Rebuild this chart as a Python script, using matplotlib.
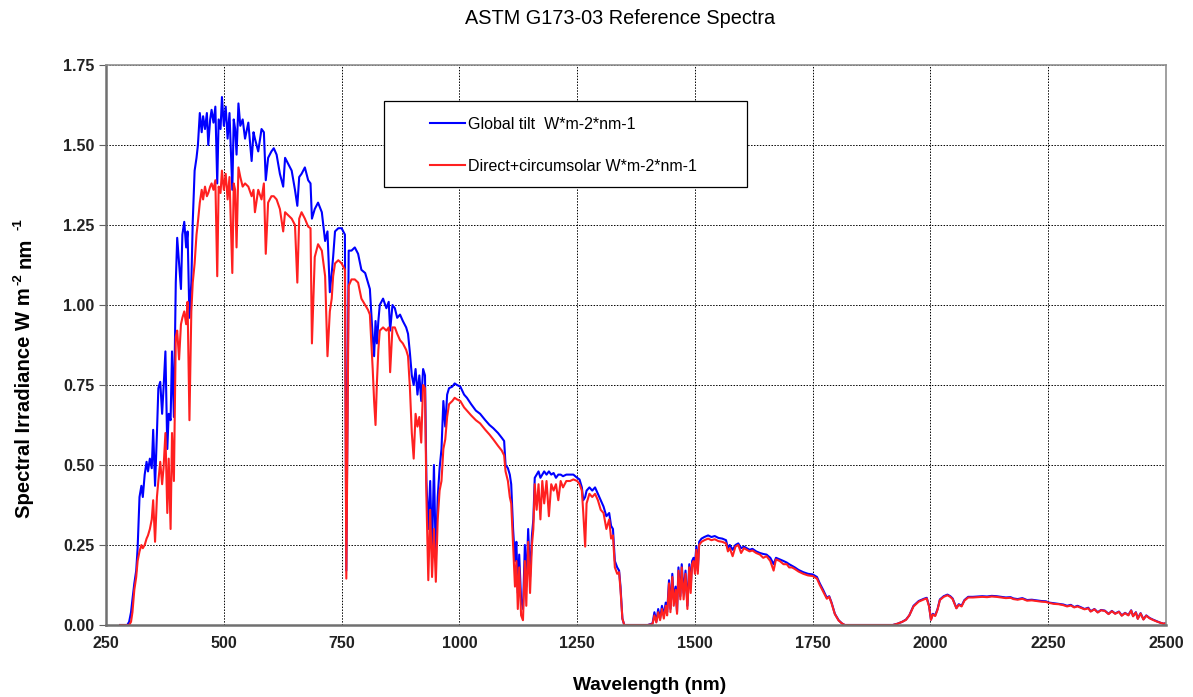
import matplotlib.pyplot as plt
from matplotlib.patches import Rectangle

plt.rcParams['font.family'] = ['Liberation Sans', 'DejaVu Sans']

# wavelength (nm), shared by both spectra
wavelength = [
    280, 295, 299, 303, 306, 310, 314, 317, 321, 325, 328, 332, 336, 339, 343, 347,
    350, 354, 358, 361, 365, 369, 372, 376, 380, 383, 387, 390, 394, 398, 401, 405,
    409, 412, 416, 420, 423, 427, 431, 434, 438, 442, 445, 449, 453, 456, 460, 464,
    467, 471, 474, 478, 482, 486, 489, 493, 496, 500, 504, 508, 512, 518, 521, 524,
    527, 531, 535, 540, 545, 552, 559, 563, 566, 573, 580, 585, 589, 594, 601, 606,
    612, 619, 626, 630, 637, 644, 651, 656, 660, 665, 672, 679, 684, 687, 693, 700,
    708, 715, 720, 725, 729, 732, 736, 743, 750, 757, 760, 765, 771, 778, 785, 792,
    800, 806, 810, 816, 819, 822, 825, 828, 831, 838, 845, 850, 853, 858, 863, 868,
    874, 880, 887, 891, 895, 899, 903, 907, 911, 915, 919, 923, 927, 930, 934, 938,
    942, 946, 950, 954, 958, 962, 966, 970, 974, 978, 985, 990, 995, 1002, 1010, 1016,
    1025, 1035, 1044, 1055, 1064, 1072, 1082, 1090, 1095, 1098, 1103, 1107, 1110, 1114, 1118, 1121,
    1124, 1127, 1131, 1135, 1139, 1142, 1146, 1150, 1154, 1157, 1160, 1164, 1168, 1172, 1176, 1180,
    1185, 1190, 1195, 1200, 1205, 1210, 1215, 1220, 1227, 1235, 1242, 1250, 1255, 1260, 1263, 1267,
    1270, 1276, 1282, 1288, 1294, 1300, 1306, 1312, 1318, 1322, 1326, 1330, 1335, 1339, 1342, 1346,
    1350, 1400, 1410, 1414, 1418, 1422, 1426, 1430, 1434, 1438, 1441, 1445, 1448, 1452, 1455, 1459,
    1462, 1465, 1469, 1472, 1476, 1480, 1484, 1488, 1491, 1494, 1497, 1500, 1503, 1506, 1509, 1514,
    1520, 1528, 1535, 1542, 1550, 1558, 1566, 1570, 1574, 1580, 1586, 1592, 1598, 1604, 1610, 1616,
    1622, 1630, 1638, 1645, 1652, 1660, 1667, 1672, 1680, 1688, 1695, 1700, 1706, 1712, 1720, 1730,
    1740, 1750, 1759, 1765, 1772, 1780, 1785, 1790, 1797, 1805, 1812, 1818, 1920, 1930, 1940, 1948,
    1955, 1964, 1975, 1986, 1992, 1997, 2001, 2005, 2010, 2015, 2020, 2028, 2036, 2042, 2047, 2055,
    2060, 2066, 2072, 2080, 2090, 2100, 2110, 2120, 2130, 2140, 2150, 2160, 2170, 2176, 2185, 2195,
    2205, 2215, 2225, 2235, 2245, 2252, 2262, 2272, 2282, 2290, 2298, 2305, 2312, 2320, 2327, 2335,
    2340, 2348, 2355, 2362, 2370, 2378, 2385, 2392, 2400, 2406, 2413, 2420, 2426, 2430, 2436, 2440,
    2446, 2452, 2458, 2465, 2472, 2480, 2488, 2495, 2500,
]

global_tilt = [
    0, 0, 0.01, 0.04, 0.08, 0.13, 0.17, 0.24, 0.40, 0.435, 0.40, 0.47, 0.51, 0.48, 0.52, 0.49,
    0.61, 0.435, 0.60, 0.74, 0.76, 0.66, 0.74, 0.855, 0.55, 0.66, 0.64, 0.855, 0.65, 1.07, 1.21, 1.13,
    1.05, 1.22, 1.26, 1.18, 1.23, 0.96, 1.07, 1.26, 1.42, 1.46, 1.50, 1.60, 1.54, 1.59, 1.55, 1.60,
    1.50, 1.58, 1.61, 1.57, 1.62, 1.38, 1.58, 1.55, 1.65, 1.56, 1.62, 1.52, 1.60, 1.36, 1.58, 1.55,
    1.47, 1.63, 1.56, 1.58, 1.52, 1.57, 1.45, 1.54, 1.52, 1.48, 1.55, 1.54, 1.39, 1.46, 1.48, 1.49,
    1.47, 1.41, 1.37, 1.46, 1.44, 1.42, 1.36, 1.31, 1.40, 1.41, 1.43, 1.39, 1.38, 1.27, 1.30, 1.32,
    1.29, 1.20, 1.23, 1.04, 1.10, 1.15, 1.23, 1.24, 1.24, 1.22, 0.17, 1.17, 1.17, 1.18, 1.16, 1.11,
    1.10, 1.07, 1.05, 0.90, 0.84, 0.95, 0.88, 0.95, 1.00, 1.02, 0.99, 1.01, 0.92, 1.00, 0.99, 0.96,
    0.97, 0.95, 0.93, 0.91, 0.85, 0.78, 0.75, 0.80, 0.72, 0.78, 0.70, 0.80, 0.78, 0.45, 0.30, 0.45,
    0.23, 0.50, 0.20, 0.40, 0.49, 0.55, 0.70, 0.62, 0.72, 0.74, 0.745, 0.755, 0.75, 0.745, 0.72, 0.71,
    0.69, 0.67, 0.66, 0.64, 0.625, 0.615, 0.60, 0.585, 0.575, 0.50, 0.49, 0.47, 0.44, 0.30, 0.20, 0.26,
    0.10, 0.22, 0.08, 0.05, 0.25, 0.12, 0.30, 0.15, 0.28, 0.33, 0.46, 0.47, 0.48, 0.46, 0.47, 0.48,
    0.47, 0.48, 0.47, 0.475, 0.46, 0.47, 0.47, 0.465, 0.47, 0.47, 0.47, 0.46, 0.455, 0.43, 0.39, 0.40,
    0.42, 0.43, 0.42, 0.43, 0.41, 0.39, 0.37, 0.34, 0.35, 0.31, 0.30, 0.20, 0.18, 0.17, 0.12, 0.02,
    0, 0, 0.005, 0.04, 0.01, 0.05, 0.02, 0.06, 0.03, 0.07, 0.04, 0.14, 0.05, 0.16, 0.08, 0.12,
    0.04, 0.18, 0.09, 0.19, 0.10, 0.17, 0.06, 0.19, 0.12, 0.20, 0.21, 0.19, 0.245, 0.17, 0.26, 0.27,
    0.275, 0.28, 0.275, 0.278, 0.272, 0.27, 0.265, 0.24, 0.25, 0.235, 0.25, 0.255, 0.24, 0.245, 0.24, 0.235,
    0.238, 0.23, 0.225, 0.222, 0.22, 0.21, 0.19, 0.21, 0.205, 0.20, 0.195, 0.19, 0.185, 0.18, 0.172, 0.165,
    0.16, 0.158, 0.15, 0.13, 0.11, 0.085, 0.09, 0.07, 0.035, 0.015, 0.005, 0, 0, 0.004, 0.01, 0.017,
    0.03, 0.06, 0.075, 0.082, 0.085, 0.06, 0.017, 0.035, 0.03, 0.05, 0.08, 0.09, 0.095, 0.09, 0.083, 0.053,
    0.065, 0.06, 0.078, 0.088, 0.088, 0.089, 0.09, 0.089, 0.091, 0.09, 0.088, 0.086, 0.087, 0.083, 0.081, 0.084,
    0.078, 0.079, 0.077, 0.075, 0.074, 0.07, 0.068, 0.066, 0.064, 0.06, 0.063, 0.056, 0.06, 0.055, 0.05, 0.054,
    0.043, 0.05, 0.04, 0.047, 0.045, 0.035, 0.044, 0.036, 0.042, 0.03, 0.038, 0.031, 0.046, 0.028, 0.04, 0.02,
    0.037, 0.018, 0.03, 0.022, 0.017, 0.012, 0.007, 0.004, 0.006,
]

direct_circumsolar = [
    0, 0, 0, 0.01, 0.04, 0.11, 0.15, 0.20, 0.23, 0.25, 0.24, 0.25, 0.27, 0.28, 0.30, 0.33,
    0.39, 0.26, 0.40, 0.45, 0.51, 0.44, 0.49, 0.60, 0.35, 0.52, 0.30, 0.60, 0.45, 0.90, 0.92, 0.83,
    0.94, 0.96, 0.98, 0.94, 1.01, 0.64, 0.98, 1.07, 1.13, 1.22, 1.26, 1.32, 1.36, 1.33, 1.37, 1.34,
    1.35, 1.37, 1.38, 1.36, 1.39, 1.09, 1.37, 1.35, 1.42, 1.36, 1.41, 1.33, 1.40, 1.10, 1.38, 1.36,
    1.18, 1.43, 1.40, 1.37, 1.38, 1.37, 1.34, 1.36, 1.29, 1.36, 1.33, 1.38, 1.16, 1.32, 1.34, 1.34,
    1.33, 1.30, 1.23, 1.29, 1.28, 1.27, 1.25, 1.07, 1.27, 1.29, 1.27, 1.245, 1.24, 0.88, 1.15, 1.19,
    1.17, 1.09, 0.84, 0.98, 1.02, 1.09, 1.13, 1.14, 1.13, 1.11, 0.145, 1.06, 1.08, 1.08, 1.07, 1.02,
    1.00, 0.985, 0.97, 0.80, 0.70, 0.625, 0.76, 0.86, 0.92, 0.93, 0.92, 0.93, 0.79, 0.93, 0.93, 0.91,
    0.89, 0.88, 0.86, 0.84, 0.74, 0.60, 0.52, 0.66, 0.62, 0.65, 0.57, 0.75, 0.74, 0.40, 0.14, 0.36,
    0.15, 0.30, 0.135, 0.33, 0.42, 0.45, 0.55, 0.58, 0.65, 0.69, 0.70, 0.71, 0.705, 0.70, 0.68, 0.67,
    0.655, 0.64, 0.63, 0.61, 0.595, 0.58, 0.56, 0.545, 0.53, 0.48, 0.45, 0.40, 0.38, 0.25, 0.12, 0.20,
    0.05, 0.18, 0.03, 0.015, 0.20, 0.06, 0.26, 0.10, 0.25, 0.30, 0.44, 0.36, 0.44, 0.33, 0.45, 0.38,
    0.45, 0.34, 0.44, 0.42, 0.44, 0.39, 0.45, 0.43, 0.45, 0.45, 0.455, 0.45, 0.44, 0.42, 0.35, 0.245,
    0.38, 0.41, 0.40, 0.41, 0.39, 0.36, 0.35, 0.30, 0.33, 0.27, 0.28, 0.18, 0.16, 0.165, 0.11, 0.02,
    0, 0, 0.003, 0.03, 0.008, 0.04, 0.015, 0.05, 0.02, 0.06, 0.03, 0.13, 0.04, 0.15, 0.06, 0.11,
    0.035, 0.17, 0.08, 0.18, 0.08, 0.16, 0.05, 0.18, 0.10, 0.19, 0.20, 0.16, 0.235, 0.16, 0.25, 0.26,
    0.265, 0.27, 0.265, 0.268, 0.262, 0.26, 0.255, 0.23, 0.24, 0.215, 0.245, 0.25, 0.225, 0.24, 0.235, 0.23,
    0.233, 0.225, 0.22, 0.21, 0.215, 0.20, 0.17, 0.205, 0.20, 0.19, 0.19, 0.18, 0.18, 0.175, 0.167, 0.16,
    0.155, 0.153, 0.145, 0.125, 0.105, 0.082, 0.088, 0.068, 0.034, 0.014, 0.005, 0, 0, 0.004, 0.01, 0.016,
    0.03, 0.058, 0.073, 0.08, 0.083, 0.058, 0.016, 0.033, 0.028, 0.048, 0.078, 0.088, 0.093, 0.088, 0.081, 0.052,
    0.063, 0.058, 0.076, 0.086, 0.086, 0.087, 0.088, 0.087, 0.089, 0.088, 0.086, 0.084, 0.085, 0.081, 0.079, 0.082,
    0.076, 0.077, 0.075, 0.073, 0.072, 0.069, 0.066, 0.065, 0.062, 0.058, 0.061, 0.055, 0.058, 0.053, 0.049, 0.052,
    0.042, 0.049, 0.039, 0.046, 0.044, 0.034, 0.043, 0.035, 0.041, 0.029, 0.037, 0.03, 0.045, 0.027, 0.039, 0.019,
    0.036, 0.017, 0.029, 0.021, 0.016, 0.011, 0.007, 0.004, 0.006,
]

x_ticks = [250, 500, 750, 1000, 1250, 1500, 1750, 2000, 2250, 2500]
y_ticks = [0.0, 0.25, 0.5, 0.75, 1.0, 1.25, 1.5, 1.75]

W, H = 1193, 697
fig = plt.figure(figsize=(W / 100, H / 100), dpi=100)
ax = fig.add_axes([0.0889, 0.1033, 0.8885, 0.8034])

ax.plot(wavelength, global_tilt, color='#0000ff', lw=1.5, label='Global tilt  W*m-2*nm-1')
ax.plot(wavelength, direct_circumsolar, color='#ff2020', lw=1.5, label='Direct+circumsolar W*m-2*nm-1')

ax.set_xlim(250, 2500)
ax.set_ylim(0, 1.75)
ax.set_xticks(x_ticks)
ax.set_yticks(y_ticks)
ax.set_yticklabels(['%.2f' % v for v in y_ticks])
ax.tick_params(axis='x', length=0, pad=8, labelsize=11.5)
ax.tick_params(axis='y', length=5, direction='out', color='#606060', labelsize=11.5)
for lab in ax.get_xticklabels() + ax.get_yticklabels():
    lab.set_fontweight('bold')
    lab.set_color('#222222')

ax.grid(True, color='black', linestyle=(0, (1.5, 1.5)), linewidth=0.7)
for side in ['left', 'bottom']:
    ax.spines[side].set_color('#707070')
    ax.spines[side].set_linewidth(1.8)
for side in ['top', 'right']:
    ax.spines[side].set_color('#909090')
    ax.spines[side].set_linewidth(1.2)

ax.set_xlabel('Wavelength (nm)', fontsize=13.8, fontweight='bold')
ax.xaxis.set_label_coords(0.513, -0.093)

fig.text(620 / W, 1 - 18 / H, 'ASTM G173-03 Reference Spectra', ha='center', va='center', fontsize=14.3)

# legend: box drawn by hand, entries without frame
ax.add_patch(Rectangle((0.2623, 0.782), 0.3424, 0.1537, transform=ax.transAxes,
                       facecolor='white', edgecolor='black', lw=0.9, zorder=5))
leg = ax.legend(loc='upper left', bbox_to_anchor=(0.3055, 0.908), fontsize=11.5,
                frameon=False, handlelength=2.2, handletextpad=0.2,
                labelspacing=1.7, borderpad=0, borderaxespad=0)
leg.set_zorder(6)

# y label in pieces so the superscripts keep plain hyphens
fs_main, fs_sup = 14.6, 9.5
fig.canvas.draw()
rend = fig.canvas.get_renderer()
parts = [('Spectral Irradiance W m', fs_main, 25, 0), ('-2', fs_sup, 18, 2),
         ('nm', fs_main, 25, 6), ('-1', fs_sup, 18, 7)]
y_px = 518
for txt, fs, xp, gap in parts:
    y_px -= gap
    t = fig.text(xp / W, 1 - y_px / H, txt, rotation=90, ha='center', va='bottom',
                 fontsize=fs, fontweight='bold')
    bb = t.get_window_extent(rend)
    y_px = H - bb.y1

plt.savefig('out.png', dpi=100)
